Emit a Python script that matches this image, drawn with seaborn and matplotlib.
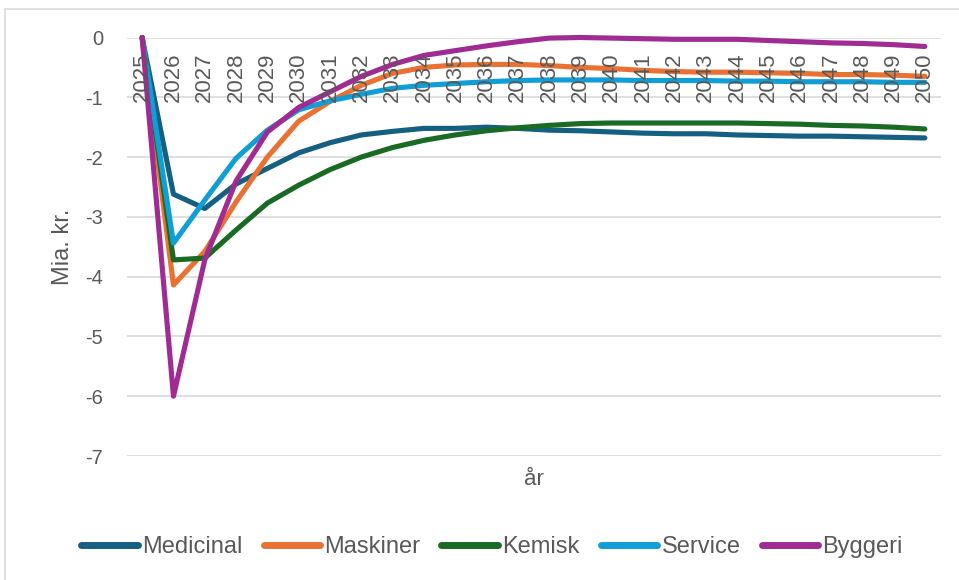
import matplotlib
matplotlib.use("Agg")
import matplotlib.pyplot as plt
from matplotlib.patches import Rectangle
from matplotlib.lines import Line2D
import numpy as np
import pandas as pd
import seaborn as sns

years = list(range(2025, 2051))

medicinal = [0.00, -2.62, -2.86, -2.45, -2.19, -1.93, -1.76, -1.63, -1.57, -1.52,
             -1.52, -1.50, -1.52, -1.55, -1.56, -1.58, -1.60, -1.61, -1.61, -1.63,
             -1.64, -1.65, -1.65, -1.66, -1.67, -1.68]
maskiner = [0.00, -4.14, -3.58, -2.75, -2.00, -1.40, -1.07, -0.80, -0.60, -0.50,
            -0.46, -0.45, -0.45, -0.47, -0.50, -0.52, -0.55, -0.57, -0.58, -0.58,
            -0.59, -0.60, -0.62, -0.62, -0.63, -0.65]
kemisk = [0.00, -3.72, -3.69, -3.22, -2.77, -2.47, -2.21, -2.00, -1.84, -1.72,
          -1.63, -1.56, -1.51, -1.47, -1.44, -1.43, -1.43, -1.43, -1.43, -1.43,
          -1.44, -1.45, -1.47, -1.48, -1.50, -1.53]
service = [0.00, -3.44, -2.72, -2.02, -1.55, -1.21, -1.06, -0.95, -0.85, -0.80,
           -0.77, -0.74, -0.72, -0.71, -0.71, -0.71, -0.72, -0.72, -0.72, -0.73,
           -0.73, -0.74, -0.74, -0.74, -0.75, -0.75]
byggeri = [0.00, -6.00, -3.72, -2.40, -1.58, -1.17, -0.91, -0.65, -0.45, -0.30,
           -0.22, -0.14, -0.07, -0.01, 0.00, -0.01, -0.02, -0.03, -0.03, -0.03,
           -0.05, -0.07, -0.09, -0.10, -0.12, -0.15]

series_names = ["Medicinal", "Maskiner", "Kemisk", "Service", "Byggeri"]
series_values = [medicinal, maskiner, kemisk, service, byggeri]
colors = ["#156082", "#E97132", "#196B24", "#0F9ED5", "#A02B93"]

y_ticks = [0, -1, -2, -3, -4, -5, -6, -7]

df = pd.DataFrame({
    "år": np.tile(years, len(series_names)),
    "value": np.concatenate(series_values),
    "serie": np.repeat(series_names, len(years)),
})

sns.set_theme(style="white")
plt.rcParams["font.family"] = ["Liberation Sans", "DejaVu Sans"]
plt.rcParams["axes.unicode_minus"] = False

W, H = 959, 580
fig = plt.figure(figsize=(W / 100, H / 100), dpi=100)
fig.patch.set_facecolor("white")

# chart frame
fig.add_artist(Rectangle((5 / W, -0.05), 1.2, 1 - 9 / H + 0.05,
                         transform=fig.transFigure, fill=False,
                         edgecolor="#d9d9d9", lw=1.2))

left, right = 126.5 / W, 940.5 / W
top, bottom = 1 - 37.5 / H, 1 - 456 / H
ax = fig.add_axes([left, bottom, right - left, top - bottom])

# horizontal gridlines behind the data
for t in y_ticks:
    ax.axhline(t, color="#d9d9d9", lw=1.2, zorder=0.5)

sns.lineplot(data=df, x="år", y="value", hue="serie", hue_order=series_names,
             palette=colors, lw=3.7, ax=ax, legend=False, sort=False, zorder=2)
for ln in ax.get_lines()[len(y_ticks):]:
    ln.set_solid_capstyle("round")
    ln.set_solid_joinstyle("round")
    ln.set_clip_on(False)

ax.set_xlim(years[0] - 0.5, years[-1] + 0.5)
ax.set_ylim(-7, 0)
ax.set_yticks(y_ticks)
ax.set_yticklabels([str(t) for t in y_ticks])
ax.set_xticks(years)
ax.set_xticklabels([str(y) for y in years])

ax.grid(False)
for s in ["top", "right", "left", "bottom"]:
    ax.spines[s].set_visible(False)
ax.set_axisbelow(False)

ax.tick_params(axis="x", length=0, pad=11, labelsize=16, labelcolor="#595959",
               labelrotation=90)
ax.tick_params(axis="y", length=0, pad=17, labelsize=14.5, labelcolor="#595959")
# category labels hang just below the zero line
ax.xaxis.set_ticks_position("bottom")
for lab in ax.get_xticklabels():
    lab.set_rotation(90)
    lab.set_verticalalignment("top")
    lab.set_horizontalalignment("center")
ax.spines["bottom"].set_position(("data", 0))

ax.set_xlabel("år", fontsize=16, color="#595959")
ax.xaxis.set_label_coords(0.5, -0.03)
ax.set_ylabel("Mia. kr.", fontsize=17, color="#595959", labelpad=8)

handles = [Line2D([0], [0], color=c, lw=5, solid_capstyle="round") for c in colors]
fig.legend(handles, series_names, loc="center", bbox_to_anchor=(492 / W, 1 - 547 / H),
           ncol=5, frameon=False, handlelength=2.4, handletextpad=0.17,
           columnspacing=0.9, prop={"size": 17}, labelcolor="#595959")

fig.savefig("out.png", dpi=100)
